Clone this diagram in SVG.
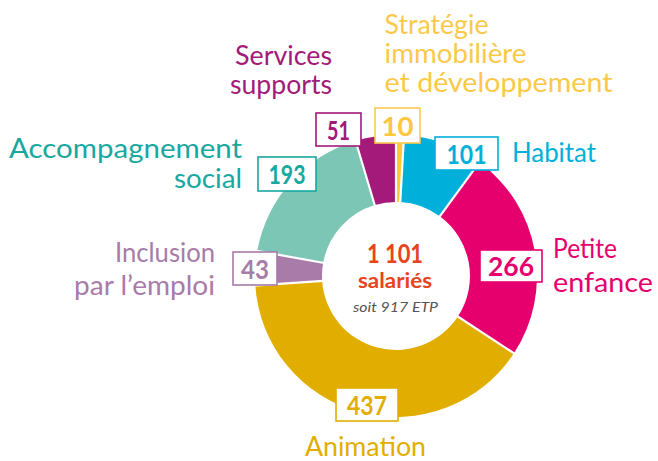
<svg xmlns="http://www.w3.org/2000/svg" width="658" height="461" viewBox="0 0 658 461">
<style>
text{font-family:Lato,"Liberation Sans",sans-serif}
.lbl{font-size:26px;font-weight:400}
.num{font-size:27px;font-weight:700;text-anchor:middle}
.box{fill:#fff;stroke-width:1.6}
.sep{stroke:#fff;stroke-width:2.2;fill:none}
.r{text-anchor:end}
</style>
<rect width="658" height="461" fill="#fff"/>
<g id="donut">
<path id="slice-strategie" fill="#fdc63e" d="M396,135 A141,141 0 0 1 404.04,135.23 L400.22,202.12 A74,74 0 0 0 396,202 Z"/>
<path id="slice-habitat" fill="#00b0da" d="M404.04,135.23 A141,141 0 0 1 479.46,162.35 L439.80,216.36 A74,74 0 0 0 400.22,202.12 Z"/>
<path id="slice-petite-enfance" fill="#e5006e" d="M479.46,162.35 A141,141 0 0 1 513.89,353.35 L457.87,316.59 A74,74 0 0 0 439.80,216.36 Z"/>
<path id="slice-animation" fill="#e1ae00" d="M513.89,353.35 A141,141 0 0 1 255.32,285.45 L322.17,280.96 A74,74 0 0 0 457.87,316.59 Z"/>
<path id="slice-inclusion" fill="#a87ba9" d="M255.32,285.45 A141,141 0 0 1 257.24,250.99 L323.17,262.87 A74,74 0 0 0 322.17,280.96 Z"/>
<path id="slice-accompagnement" fill="#7cc6b6" d="M257.24,250.99 A141,141 0 0 1 355.54,140.93 L374.76,205.11 A74,74 0 0 0 323.17,262.87 Z"/>
<path id="slice-services" fill="#a31a7a" d="M355.54,140.93 A141,141 0 0 1 396,135 L396,202 A74,74 0 0 0 374.76,205.11 Z"/>
</g>
<g id="connectors">
<line class="sep" x1="396" y1="203" x2="396" y2="133"/>
<line class="sep" x1="400.16" y1="203.1" x2="404.16" y2="133.2"/>
<line class="sep" x1="439.2" y1="217.2" x2="480.6" y2="160.7"/>
<line class="sep" x1="457" y1="316" x2="515.6" y2="354.4"/>
<line class="sep" x1="323.2" y1="280.9" x2="253.3" y2="285.6"/>
<line class="sep" x1="324.2" y1="263" x2="255.3" y2="250.6"/>
<line class="sep" x1="375" y1="206" x2="355" y2="139"/>
</g>
<g id="center">
<text x="395" y="263" font-size="27" font-weight="700" fill="#e84320" text-anchor="middle" textLength="56" lengthAdjust="spacingAndGlyphs">1 101</text>
<text x="395" y="288" font-size="21" font-weight="700" fill="#e84320" text-anchor="middle" textLength="74" lengthAdjust="spacingAndGlyphs">salariés</text>
<text x="395.5" y="312" font-size="14" font-style="italic" fill="#555" text-anchor="middle" textLength="85" lengthAdjust="spacingAndGlyphs">soit 917 ETP</text>
</g>
<g id="node-strategie">
<rect class="box" x="375" y="108" width="45" height="35" stroke="#fccb4f"/>
<text class="num" x="397.5" y="135.5" fill="#fcc63f" font-weight="400" textLength="32" lengthAdjust="spacingAndGlyphs">10</text>
<text class="lbl" fill="#fbc94a" x="384.5" y="34" textLength="104" lengthAdjust="spacingAndGlyphs">Stratégie</text>
<text class="lbl" fill="#fbc94a" x="384.5" y="63" textLength="142" lengthAdjust="spacingAndGlyphs">immobilière</text>
<text class="lbl" fill="#fbc94a" x="384.5" y="92" textLength="228" lengthAdjust="spacingAndGlyphs">et développement</text>
</g>
<g id="node-habitat">
<rect class="box" x="435" y="137" width="63" height="33" stroke="#00b0da"/>
<text class="num" x="466.5" y="163.5" fill="#00b0da" textLength="40" lengthAdjust="spacingAndGlyphs">101</text>
<text class="lbl" fill="#00b0da" x="512" y="162" textLength="84" lengthAdjust="spacingAndGlyphs">Habitat</text>
</g>
<g id="node-petite-enfance">
<rect class="box" x="480" y="250" width="62" height="32" stroke="#e5006e"/>
<text class="num" x="511" y="276" fill="#e5006e" textLength="46" lengthAdjust="spacingAndGlyphs">266</text>
<text class="lbl" fill="#e5006e" x="553" y="258" textLength="64" lengthAdjust="spacingAndGlyphs">Petite</text>
<text class="lbl" fill="#e5006e" x="553" y="292" textLength="100" lengthAdjust="spacingAndGlyphs">enfance</text>
</g>
<g id="node-animation">
<rect class="box" x="336" y="388" width="62" height="33" stroke="#e1ae00"/>
<text class="num" x="367" y="414.5" fill="#e1ae00" textLength="40" lengthAdjust="spacingAndGlyphs">437</text>
<text class="lbl" fill="#e1ae00" x="305" y="456" textLength="121" lengthAdjust="spacingAndGlyphs">Animation</text>
</g>
<g id="node-inclusion">
<rect class="box" x="233" y="252" width="44" height="33" stroke="#a87ba9"/>
<text class="num" x="255" y="278.5" fill="#a87ba9" textLength="28" lengthAdjust="spacingAndGlyphs">43</text>
<text class="lbl r" fill="#a87ba9" x="215" y="262" textLength="100" lengthAdjust="spacingAndGlyphs">Inclusion</text>
<text class="lbl r" fill="#a87ba9" x="215" y="295" textLength="141" lengthAdjust="spacingAndGlyphs">par l’emploi</text>
</g>
<g id="node-accompagnement">
<rect class="box" x="258" y="157" width="58" height="34" stroke="#17a89f"/>
<text class="num" x="287" y="184" fill="#17a89f" textLength="37" lengthAdjust="spacingAndGlyphs">193</text>
<text class="lbl r" fill="#17a89f" x="242" y="158" textLength="233" lengthAdjust="spacingAndGlyphs">Accompagnement</text>
<text class="lbl r" fill="#17a89f" x="242" y="188" textLength="68" lengthAdjust="spacingAndGlyphs">social</text>
</g>
<g id="node-services">
<rect class="box" x="316" y="113" width="45" height="33" stroke="#a31a7a"/>
<text class="num" x="338.5" y="139.5" fill="#a31a7a" textLength="23" lengthAdjust="spacingAndGlyphs">51</text>
<text class="lbl r" fill="#a31a7a" x="332" y="65" textLength="97" lengthAdjust="spacingAndGlyphs">Services</text>
<text class="lbl r" fill="#a31a7a" x="332" y="94" textLength="102" lengthAdjust="spacingAndGlyphs">supports</text>
</g>
</svg>
